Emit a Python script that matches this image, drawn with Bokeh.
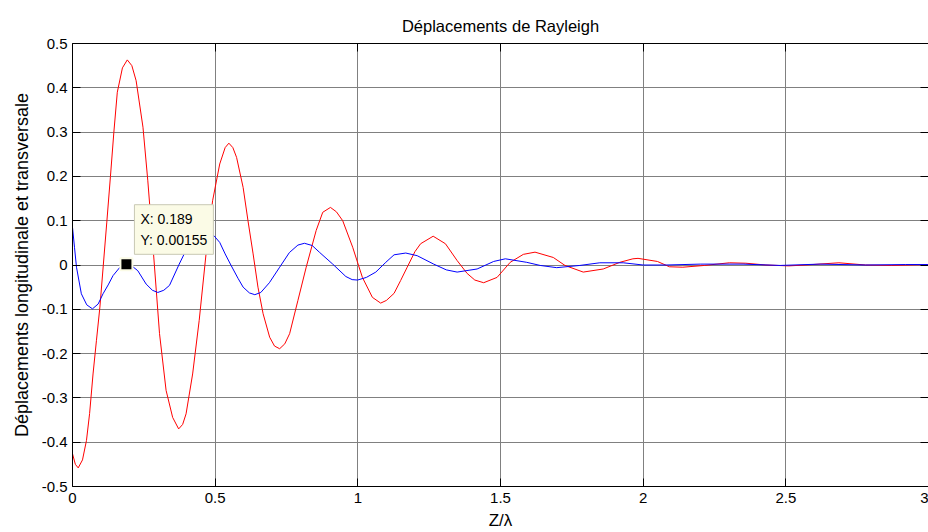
from bokeh.plotting import figure
from bokeh.models import Range1d, LinearAxis, FixedTicker, Label
from bokeh.embed import file_html
from bokeh.resources import INLINE

# ---- data ----
red_x = [0.000, 0.010, 0.020, 0.035, 0.049, 0.060, 0.072, 0.084, 0.096, 0.108,
         0.120, 0.133, 0.145, 0.157, 0.175, 0.192, 0.208, 0.223, 0.247, 0.264,
         0.284, 0.305, 0.328, 0.351, 0.372, 0.386, 0.398, 0.421, 0.444, 0.468,
         0.491, 0.516, 0.535, 0.548, 0.562, 0.575, 0.598, 0.615, 0.633, 0.650,
         0.668, 0.691, 0.708, 0.726, 0.744, 0.761, 0.790, 0.819, 0.854, 0.877,
         0.904, 0.925, 0.947, 0.982, 1.016, 1.051, 1.080, 1.100, 1.127, 1.150,
         1.173, 1.200, 1.220, 1.264, 1.307, 1.348, 1.383, 1.410, 1.441, 1.488,
         1.534, 1.580, 1.621, 1.685, 1.726, 1.790, 1.860, 1.918, 1.964, 1.982,
         2.050, 2.092, 2.139, 2.215, 2.302, 2.360, 2.430, 2.510, 2.570, 2.686,
         2.780, 2.870, 3.000]
red_y = [-0.426, -0.450, -0.458, -0.440, -0.396, -0.335, -0.246, -0.170, -0.095, 0.000,
         0.095, 0.200, 0.300, 0.390, 0.445, 0.463, 0.450, 0.416, 0.311, 0.190,
         0.025, -0.155, -0.283, -0.344, -0.370, -0.360, -0.336, -0.246, -0.125, 0.025,
         0.145, 0.228, 0.265, 0.275, 0.265, 0.243, 0.175, 0.100, 0.025, -0.050,
         -0.110, -0.163, -0.183, -0.189, -0.178, -0.155, -0.080, -0.005, 0.078, 0.119,
         0.130, 0.120, 0.100, 0.040, -0.028, -0.073, -0.086, -0.080, -0.064, -0.035,
         -0.005, 0.030, 0.048, 0.065, 0.048, 0.010, -0.019, -0.034, -0.040, -0.028,
         0.006, 0.024, 0.029, 0.017, -0.001, -0.016, -0.009, 0.006, 0.014, 0.015,
         0.008, -0.004, -0.005, -0.001, 0.005, 0.004, 0.000, -0.002, 0.000, 0.005,
         0.000, -0.001, 0.001]

blue_x = [0.000, 0.007, 0.014, 0.031, 0.050, 0.070, 0.090, 0.107, 0.125, 0.142,
          0.165, 0.189, 0.210, 0.229, 0.258, 0.280, 0.299, 0.320, 0.340, 0.374,
          0.409, 0.440, 0.463, 0.496, 0.516, 0.535, 0.555, 0.580, 0.598, 0.620,
          0.639, 0.660, 0.690, 0.726, 0.760, 0.790, 0.813, 0.840, 0.865, 0.912,
          0.958, 0.980, 0.999, 1.030, 1.063, 1.098, 1.127, 1.168, 1.208, 1.266,
          1.310, 1.348, 1.418, 1.476, 1.517, 1.592, 1.639, 1.697, 1.778, 1.848,
          1.930, 2.000, 2.080, 2.200, 2.350, 2.480, 2.620, 2.780, 2.920, 3.000]
blue_y = [0.085, 0.040, -0.005, -0.065, -0.090, -0.099, -0.088, -0.065, -0.045, -0.024,
          -0.006, 0.00155, -0.003, -0.013, -0.043, -0.057, -0.062, -0.057, -0.046, 0.002,
          0.048, 0.072, 0.078, 0.066, 0.051, 0.025, 0.000, -0.030, -0.050, -0.063,
          -0.067, -0.062, -0.040, -0.005, 0.028, 0.045, 0.049, 0.044, 0.029, 0.002,
          -0.026, -0.033, -0.034, -0.028, -0.016, 0.006, 0.023, 0.027, 0.021, 0.002,
          -0.011, -0.016, -0.009, 0.008, 0.014, 0.006, -0.001, -0.006, -0.001, 0.005,
          0.005, 0.000, 0.000, 0.002, 0.002, -0.001, 0.002, 0.000, 0.001, 0.001]

tip_x = 0.189
tip_y = 0.00155
tip_text = "X: 0.189\nY: 0.00155"

x_ticks = [0, 0.5, 1, 1.5, 2, 2.5, 3]
x_tick_labels = ["0", "0.5", "1", "1.5", "2", "2.5", "3"]
y_ticks = [-0.5, -0.4, -0.3, -0.2, -0.1, 0, 0.1, 0.2, 0.3, 0.4, 0.5]
y_tick_labels = ["-0.5", "-0.4", "-0.3", "-0.2", "-0.1", "0", "0.1", "0.2", "0.3", "0.4", "0.5"]

title_text = "Déplacements de Rayleigh"
x_label = "Z/λ"
y_label = "Déplacements longitudinale et transversale"

FONT = "Liberation Sans"

p = figure(width=928, height=532, output_backend="svg", toolbar_location=None,
           x_range=Range1d(0, 3), y_range=Range1d(-0.5, 0.5),
           min_border_left=72, min_border_right=0, min_border_top=43, min_border_bottom=46,
           title=title_text)
p.background_fill_color = "white"
p.border_fill_color = "white"
p.outline_line_color = None

p.title.align = "center"
p.title.text_font = FONT
p.title.text_font_size = "16.5px"
p.title.text_font_style = "normal"
p.title.text_color = "black"
p.title.standoff = 17

def style_axis(ax, ticks, labels, show_labels=True):
    ax.ticker = FixedTicker(ticks=ticks)
    ax.axis_line_color = "black"
    ax.axis_line_width = 1
    ax.major_tick_in = 8
    ax.major_tick_out = 0
    ax.major_tick_line_color = "black"
    ax.minor_tick_line_color = None
    ax.major_label_text_font = FONT
    ax.major_label_text_font_size = "15px"
    ax.major_label_text_color = "black"
    if show_labels:
        ax.major_label_overrides = {t: l for t, l in zip(ticks, labels)}
    else:
        ax.major_label_text_font_size = "0px"
        ax.major_label_text_color = None
        ax.major_label_standoff = 0

style_axis(p.xaxis[0], x_ticks, x_tick_labels)
style_axis(p.yaxis[0], y_ticks, y_tick_labels)
p.xaxis[0].major_label_standoff = 6
p.yaxis[0].major_label_standoff = 5
p.xaxis[0].axis_label = x_label
p.yaxis[0].axis_label = y_label
for ax in (p.xaxis[0], p.yaxis[0]):
    ax.axis_label_text_font = FONT
    ax.axis_label_text_font_style = "normal"
    ax.axis_label_text_color = "black"
p.xaxis[0].axis_label_text_font_size = "17px"
p.yaxis[0].axis_label_text_font_size = "18px"
p.xaxis[0].axis_label_standoff = 5
p.yaxis[0].axis_label_standoff = 7

top_ax = LinearAxis()
style_axis(top_ax, x_ticks, x_tick_labels, show_labels=False)
p.add_layout(top_ax, "above")
right_ax = LinearAxis()
style_axis(right_ax, y_ticks, y_tick_labels, show_labels=False)
right_ax.axis_line_color = None
p.add_layout(right_ax, "right")

p.xgrid.ticker = FixedTicker(ticks=x_ticks)
p.ygrid.ticker = FixedTicker(ticks=y_ticks)
for g in (p.xgrid[0], p.ygrid[0]):
    g.grid_line_color = "#808080"
    g.grid_line_width = 1
    g.grid_line_alpha = 1.0

p.line(red_x, red_y, line_color="#ff0000", line_width=1)
p.line(blue_x, blue_y, line_color="#0000ff", line_width=1)

p.scatter([tip_x], [tip_y], marker="square", size=12, fill_color="black",
          line_color="#fbfbe6", line_width=2)

tip = Label(x=tip_x, y=tip_y, x_offset=8, y_offset=10, text=tip_text,
            text_font=FONT, text_font_size="14px", text_color="black",
            text_line_height=1.35,
            background_fill_color="#fbfbe6", border_line_color="#c8c8b4",
            border_line_width=1, padding=6)
p.add_layout(tip)

open("out.html", "w").write(file_html(p, INLINE))
